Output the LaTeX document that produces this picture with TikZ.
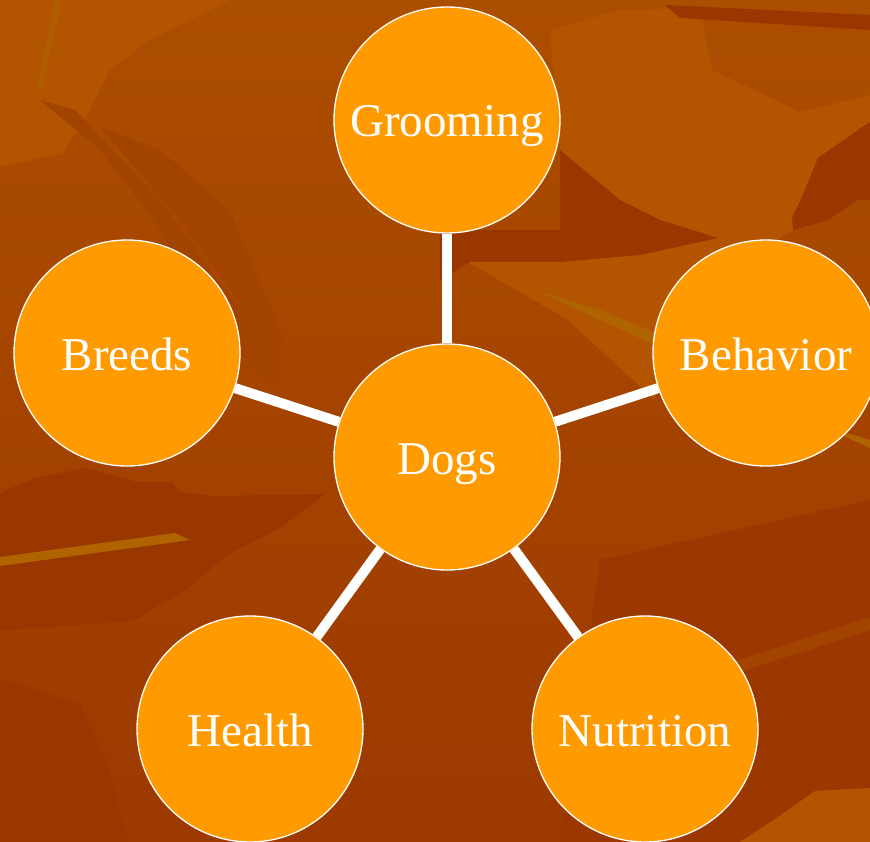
\documentclass[tikz,border=0pt]{standalone}
\usepackage{fontspec}
\setmainfont{Liberation Serif}
\usepackage{tikz}

\definecolor{bgtop}{HTML}{AC4E00}
\definecolor{bgbot}{HTML}{9C3900}
\definecolor{darkpatch}{HTML}{9A3600}
\definecolor{midpatch}{HTML}{A34300}
\definecolor{lightpatch}{HTML}{B35500}
\definecolor{streak}{HTML}{B06400}
\definecolor{bubble}{HTML}{FF9A00}

\begin{document}
\begin{tikzpicture}[x=1pt,y=-1pt,
    topic/.style={circle,draw=white,line width=1.3pt,fill=bubble,
      minimum size=226pt,inner sep=0pt,text=white,
      font=\fontsize{47}{56}\selectfont,text height=34pt,text depth=0pt},
    link/.style={draw=white,line width=10pt}]
  \useasboundingbox (0,0) rectangle (870,842);
  \shade[top color=bgtop,bottom color=bgbot] (0,0) rectangle (870,842);

  % light and dark patches of the backdrop
  \fill[lightpatch] (0,0) -- (230,0) -- (150,40) -- (110,70) -- (90,110)
    -- (63,153) -- (0,167) -- cycle;
  \fill[lightpatch] (550,30) -- (620,10) -- (700,8) -- (712,70) -- (800,112)
    -- (870,95) -- (870,125) -- (818,158) -- (793,230) -- (760,250)
    -- (718,238) -- (660,220) -- (620,200) -- (560,150) -- cycle;
  \fill[lightpatch] (468,262) -- (560,262) -- (718,238) -- (760,250)
    -- (800,300) -- (660,340) -- (655,400) -- (568,320) -- cycle;
  \fill[midpatch] (40,100) -- (75,110) -- (160,200) -- (233,300) -- (283,337)
    -- (275,387) -- (230,345) -- (150,215) -- (100,150) -- cycle;
  \fill[midpatch] (100,127) -- (160,150) -- (230,210)
    -- (283,337) -- (260,330) -- (180,220) -- cycle;
  \fill[darkpatch] (560,150) -- (620,200) -- (660,220) -- (718,238)
    -- (640,255) -- (560,262) -- (470,262) -- (440,280) -- (440,230)
    -- (560,230) -- cycle;
  \fill[darkpatch] (818,158) -- (868,123) -- (870,123) -- (870,200)
    -- (858,200) -- (828,220) -- (793,230) -- (792,217) -- (802,197) -- cycle;
  \fill[darkpatch] (665,5) -- (870,15) -- (870,30) -- (680,18) -- cycle;
  \fill[darkpatch] (0,493) -- (35,478) -- (85,468) -- (137,482) -- (172,482)
    -- (180,492) -- (213,496) -- (325,494) -- (280,528) -- (230,553)
    -- (187,589) -- (133,621) -- (0,631) -- cycle;
  \fill[darkpatch] (0,678) -- (80,704) -- (110,771) -- (127,842) -- (0,842)
    -- cycle;
  \fill[darkpatch!60!bgbot] (600,560) -- (870,500) -- (870,842) -- (560,842)
    -- cycle;
  \fill[lightpatch] (775,819) -- (815,791) -- (870,788) -- (870,842)
    -- (740,842) -- cycle;
  \fill[midpatch] (735,661) -- (870,617) -- (870,630) -- (740,672) -- cycle;
  \fill[streak] (0,557) -- (175,533) -- (190,540) -- (0,566) -- cycle;
  \fill[streak] (535,290) -- (600,310) -- (660,335) -- (655,345) -- cycle;
  \fill[streak] (820,425) -- (870,440) -- (870,448) -- cycle;
  \fill[streak!70!bgtop] (55,0) -- (62,0) -- (42,90) -- (36,90) -- cycle;

  % topics
  \node[topic] (dogs) at (447,457) {Dogs};
  \node[topic] (grooming) at (447,120) {Grooming};
  \node[topic] (breeds) at (127,353) {Breeds};
  \node[topic] (behavior) at (766,353) {Behavior};
  \node[topic] (health) at (250,729) {Health};
  \node[topic] (nutrition) at (645,729) {Nutrition};

  % spokes
  \foreach \leaf in {grooming,breeds,behavior,health,nutrition}
    \draw[link] (dogs) -- (\leaf);
\end{tikzpicture}
\end{document}
